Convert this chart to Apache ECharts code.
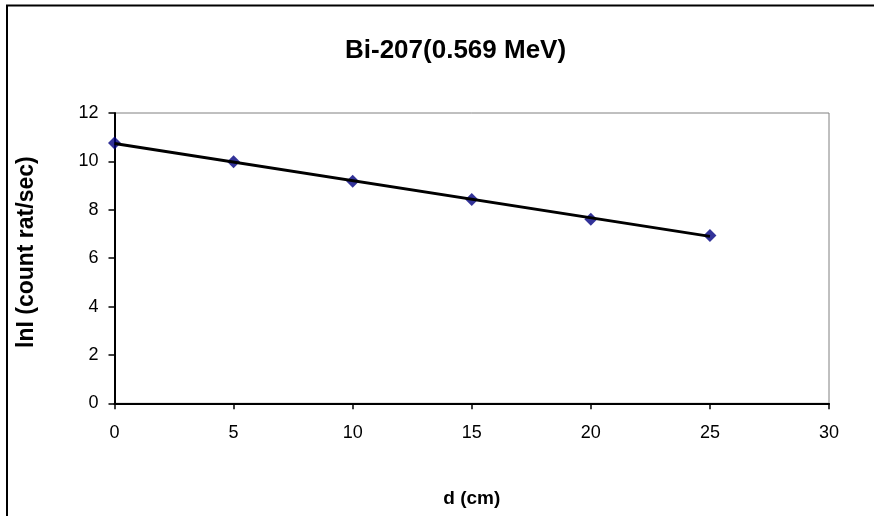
<!DOCTYPE html>
<html>
<head>
<meta charset="utf-8">
<script src="https://cdn.jsdelivr.net/npm/echarts@6/dist/echarts.min.js"></script>
<style>
  html, body { margin: 0; padding: 0; background: #fff; }
  #main { width: 874px; height: 516px; }
</style>
</head>
<body>
<div id="main"></div>
<script>
// 测量数据
let distances = [0, 5, 10, 15, 20, 25]
let lnCounts = [10.76, 9.99, 9.18, 8.42, 7.61, 6.94]

// 趋势线端点
let trendX = [0, 25]
let trendY = [10.74, 6.90]

let xTicks = { min: 0, max: 30, interval: 5 }
let yTicks = { min: 0, max: 12, interval: 2 }

let myChart
let chartOption

function init() {
	let chartDom = document.getElementById('main')
	myChart = echarts.init(chartDom)

	let points = []
	for (let i = 0; i < distances.length; i++) {
		points.push([distances[i], lnCounts[i]])
	}
	let trend = []
	for (let i = 0; i < trendX.length; i++) {
		trend.push([trendX[i], trendY[i]])
	}

	let fontFam = '"Liberation Sans", Arial, sans-serif'

	chartOption = {
		animation: false,
		backgroundColor: '#fff',
		title: {
			text: 'Bi-207(0.569 MeV)',
			left: 340,
			top: 33,
			textStyle: {
				fontFamily: fontFam,
				fontSize: 26,
				fontWeight: 'bold',
				color: '#000'
			}
		},
		graphic: [
			{
				type: 'rect',
				shape: { x: 7, y: 5.5, width: 1000, height: 1000 },
				style: { fill: 'none', stroke: '#000', lineWidth: 2 },
				silent: true
			}
		],
		grid: {
			left: 114.5,
			right: 45,
			top: 113,
			bottom: 112.7,
			show: true,
			borderColor: '#808080',
			borderWidth: 1
		},
		xAxis: {
			type: 'value',
			min: xTicks.min,
			max: xTicks.max,
			interval: xTicks.interval,
			name: 'd (cm)',
			nameLocation: 'middle',
			nameGap: 86,
			nameTextStyle: {
				fontFamily: fontFam,
				fontSize: 19,
				fontWeight: 'bold',
				color: '#000'
			},
			axisLine: { onZero: false, lineStyle: { color: '#000', width: 2 } },
			axisTick: { show: true, inside: false, length: 6, lineStyle: { color: '#000', width: 1.5 } },
			axisLabel: { margin: 21, fontFamily: fontFam, fontSize: 18, color: '#000' },
			splitLine: { show: false }
		},
		yAxis: {
			type: 'value',
			min: yTicks.min,
			max: yTicks.max,
			interval: yTicks.interval,
			name: 'lnI (count rat/sec)',
			nameLocation: 'middle',
			nameGap: 76,
			nameTextStyle: {
				fontFamily: fontFam,
				fontSize: 23,
				fontWeight: 'bold',
				color: '#000',
				padding: [0, 0, 0, 12]
			},
			axisLine: { onZero: false, lineStyle: { color: '#000', width: 2 } },
			axisTick: { show: true, inside: false, length: 6, lineStyle: { color: '#000', width: 1.5 } },
			axisLabel: { margin: 16, fontFamily: fontFam, fontSize: 18, color: '#000' },
			splitLine: { show: false }
		},
		series: [
			{
				name: 'trend',
				type: 'line',
				data: trend,
				symbol: 'none',
				lineStyle: { color: '#000', width: 3 },
				z: 3
			},
			{
				name: 'lnI',
				type: 'scatter',
				data: points,
				symbol: 'diamond',
				symbolSize: 13,
				itemStyle: { color: '#000080' },
				z: 2
			}
		]
	}

	chartOption && myChart.setOption(chartOption)
	window.onresize = myChart.resize
}

init()
</script>
</body>
</html>
